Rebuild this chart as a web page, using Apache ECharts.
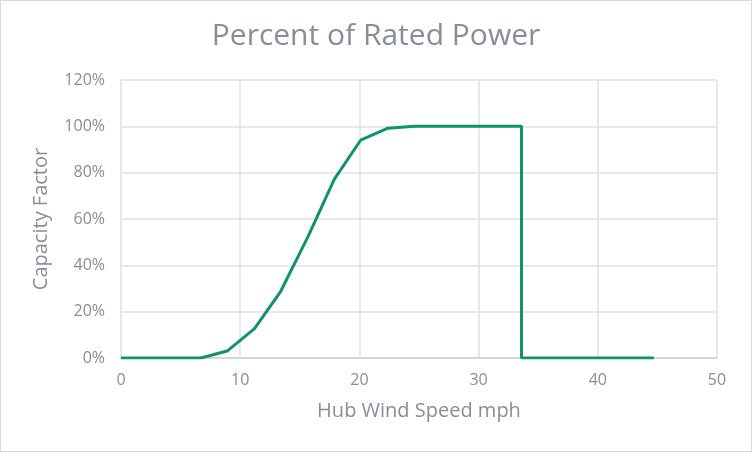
<!DOCTYPE html>
<html>
<head>
<meta charset="utf-8">
<script src="https://cdn.jsdelivr.net/npm/echarts@6/dist/echarts.min.js"></script>
<style>
  html, body { margin: 0; padding: 0; background: #fff; }
  #chart { width: 752px; height: 452px; box-sizing: border-box; border: 1px solid #d9d9d9; }
</style>
</head>
<body>
<div id="chart"></div>
<script>
// wind speed (mph) vs capacity factor (%)
var windSpeed = [0, 2.2, 4.5, 6.7, 8.9, 11.2, 13.4, 15.7, 17.9, 20.1, 22.4, 24.6, 26.8, 29.1, 31.3, 33.6, 33.6, 35.8, 38.0, 40.3, 42.5, 44.7];
var capacity  = [0, 0, 0, 0, 3, 12.7, 28.8, 52.5, 77.2, 94, 99.2, 100, 100, 100, 100, 100, 0, 0, 0, 0, 0, 0];
var xTicks = [0, 50, 10];   // min, max, interval
var yTicks = [0, 120, 20];

var textColor = '#898d99';
var font = 'Open Sans';

var chartDom = document.getElementById('chart');
var myChart = echarts.init(chartDom);

var points = windSpeed.map(function (x, i) { return [x, capacity[i]]; });

var option = {
    animation: false,
    title: {
        text: 'Percent of Rated Power',
        left: 'center',
        top: 15,
        textStyle: { color: textColor, fontFamily: font, fontSize: 30, fontWeight: 'normal' }
    },
    grid: { left: 120, right: 34, top: 79, bottom: 93 },
    xAxis: {
        type: 'value',
        min: xTicks[0],
        max: xTicks[1],
        interval: xTicks[2],
        name: 'Hub Wind Speed mph',
        nameLocation: 'middle',
        nameGap: 43,
        nameTextStyle: { color: textColor, fontFamily: font, fontSize: 20 },
        axisLine: { lineStyle: { color: '#cfcfd4', width: 1.5 } },
        axisTick: { show: false },
        axisLabel: { color: textColor, fontFamily: font, fontSize: 16, margin: 14 },
        splitLine: { lineStyle: { color: '#e1e1e5', width: 1.5 } }
    },
    yAxis: {
        type: 'value',
        min: yTicks[0],
        max: yTicks[1],
        interval: yTicks[2],
        name: 'Capacity Factor',
        nameLocation: 'middle',
        nameGap: 70,
        nameTextStyle: { color: textColor, fontFamily: font, fontSize: 20 },
        axisLine: { show: false },
        axisTick: { show: false },
        axisLabel: { color: textColor, fontFamily: font, fontSize: 16, margin: 16, formatter: '{value}%' },
        splitLine: { lineStyle: { color: '#e1e1e5', width: 1.5 } }
    },
    series: [
        {
            type: 'line',
            data: points,
            showSymbol: false,
            lineStyle: { color: '#11916e', width: 3 },
            itemStyle: { color: '#11916e' }
        }
    ]
};
myChart.setOption(option);

window.onresize = function () {
    myChart.resize();
};
</script>
</body>
</html>
